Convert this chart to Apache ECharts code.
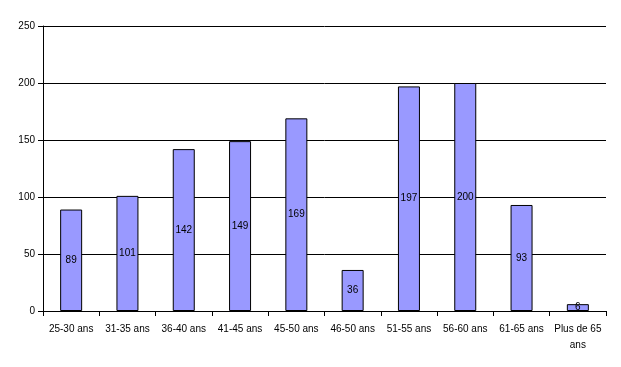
<!DOCTYPE html>
<html><head><meta charset="utf-8">
<script src="https://cdn.jsdelivr.net/npm/echarts@6/dist/echarts.min.js"></script>
<style>html,body{margin:0;padding:0;background:#fff}#c{width:621px;height:367px}</style>
</head><body><div id="c"></div>
<script>
var categories = ["25-30 ans","31-35 ans","36-40 ans","41-45 ans","45-50 ans","46-50 ans","51-55 ans","56-60 ans","61-65 ans","Plus de 65\nans"];
var values = [89,101,142,149,169,36,197,200,93,6];
var yTicks = {min:0, max:250, interval:50};
var chart = echarts.init(document.getElementById('c'), null, {renderer:'canvas'});
var font = 'Liberation Sans, Arial, sans-serif';
chart.setOption({
  animation:false,
  grid:{left:43,right:15,top:26,bottom:56,containLabel:false},
  xAxis:{type:'category',data:categories,
    axisLine:{lineStyle:{color:'#000',width:1}},
    axisTick:{show:true,alignWithLabel:false,length:5,lineStyle:{color:'#000'}},
    axisLabel:{color:'#000',fontFamily:font,fontSize:10,margin:10,interval:0,lineHeight:16},
    splitLine:{show:false}},
  yAxis:{type:'value',min:yTicks.min,max:yTicks.max,interval:yTicks.interval,
    axisLine:{show:true,lineStyle:{color:'#000',width:1}},
    axisTick:{show:true,length:5,lineStyle:{color:'#000'}},
    axisLabel:{color:'#000',fontFamily:font,fontSize:10,margin:8},
    splitLine:{show:true,lineStyle:{color:'#000',width:1}}},
  series:[{type:'bar',data:values,barWidth:22,
    itemStyle:{color:'#9999FF',borderColor:'#000',borderWidth:1},
    label:{show:true,position:'inside',color:'#000',fontFamily:font,fontSize:10}}]
});
</script></body></html>
